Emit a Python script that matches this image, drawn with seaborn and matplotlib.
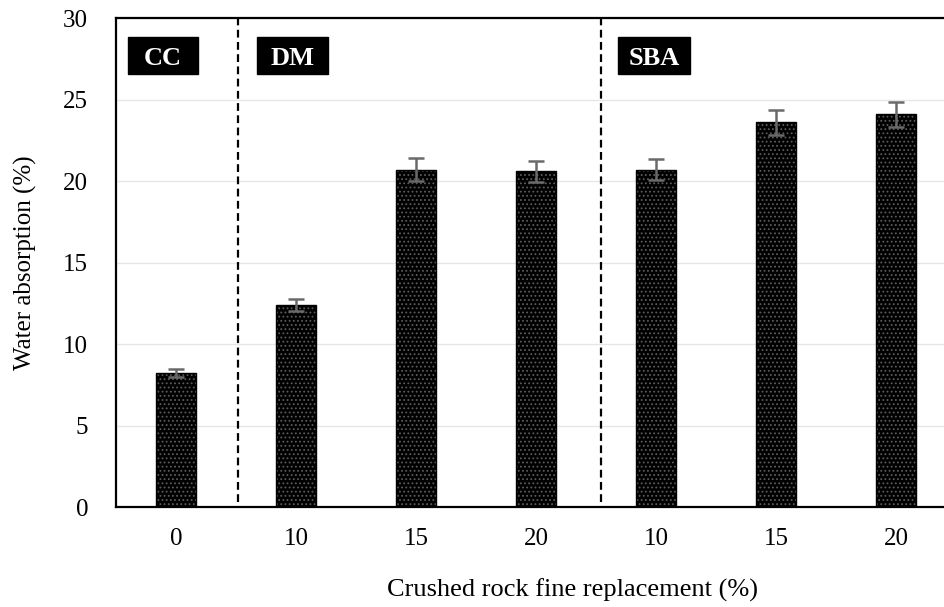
import matplotlib
matplotlib.use("Agg")
import matplotlib.pyplot as plt
from matplotlib.patches import Rectangle
import seaborn as sns
import pandas as pd

# Mix groups and crushed rock fine replacement levels
groups = ["CC", "DM", "DM", "DM", "SBA", "SBA", "SBA"]
replacement = [0, 10, 15, 20, 10, 15, 20]
water_absorption = [8.2, 12.4, 20.7, 20.6, 20.7, 23.6, 24.1]
std_dev = [0.25, 0.35, 0.7, 0.65, 0.65, 0.75, 0.76]

group_labels = ["CC", "DM", "SBA"]
# left / right edges of each group tag box (category units)
tag_left = [-0.40, 0.675, 3.683]
tag_right = [0.183, 1.267, 4.283]
tag_bottom, tag_top = 26.55, 28.85
divider_x = [0.52, 3.54]

df = pd.DataFrame({
    "mix": [f"{g}-{r}" for g, r in zip(groups, replacement)],
    "absorption": water_absorption,
    "sd": std_dev,
})

sns.set_theme(style="white")
plt.rcParams["font.family"] = ["Liberation Serif", "DejaVu Serif"]
plt.rcParams["hatch.linewidth"] = 0.8
plt.rcParams["text.color"] = "black"
plt.rcParams["axes.labelcolor"] = "black"

fig = plt.figure(figsize=(9.44, 6.07), dpi=100)
ax = fig.add_axes([0.1229, 0.1647, 0.8771, 0.8056])

sns.barplot(data=df, x="mix", y="absorption", color="black", width=0.33,
            edgecolor="#5c5c5c", linewidth=0, hatch="....", errorbar=None,
            ax=ax, zorder=2)

# crisp black outline over the dotted fill
for p in list(ax.patches):
    ax.add_patch(Rectangle(p.get_xy(), p.get_width(), p.get_height(),
                           fill=False, edgecolor="black", linewidth=1.0,
                           zorder=3))

xpos = list(range(len(df)))
ax.errorbar(xpos, df["absorption"], yerr=df["sd"], fmt="none",
            ecolor="#6a6a6a", elinewidth=1.8, capsize=6, capthick=1.8,
            zorder=4)

for xv in divider_x:
    ax.axvline(xv, ymin=0.01, ymax=1, color="black", linestyle=(0, (3.5, 2)),
               linewidth=1.6, zorder=5)

for lbl, x0, x1 in zip(group_labels, tag_left, tag_right):
    ax.add_patch(Rectangle((x0, tag_bottom), x1 - x0, tag_top - tag_bottom,
                           facecolor="black", edgecolor="black", zorder=6))
    ax.text((x0 + x1) / 2, (tag_bottom + tag_top) / 2, lbl, color="white",
            fontsize=19, fontweight="bold", ha="center", va="center_baseline",
            zorder=7)

ax.set_xlim(-0.5, 6.4)
ax.set_ylim(0, 30)
ax.set_yticks([0, 5, 10, 15, 20, 25, 30])
ax.set_xticks(xpos)
ax.set_xticklabels([str(r) for r in replacement])
ax.tick_params(axis="both", labelsize=18, length=0, colors="black")
ax.tick_params(axis="y", pad=20)
ax.tick_params(axis="x", pad=15)

ax.yaxis.grid(True, color="#e6e6e6", linewidth=1.0, zorder=0)
ax.set_axisbelow(True)

for side in ["left", "top", "bottom"]:
    ax.spines[side].set_visible(True)
    ax.spines[side].set_color("black")
    ax.spines[side].set_linewidth(1.6)
ax.spines["right"].set_visible(False)

ax.set_xlabel("Crushed rock fine replacement (%)", fontsize=19, color="black")
ax.xaxis.set_label_coords(0.551, -0.147)
ax.set_ylabel("Water absorption (%)", fontsize=18, color="black")
ax.yaxis.set_label_coords(-0.0954, 0.5)

fig.savefig("out.png", dpi=100)
